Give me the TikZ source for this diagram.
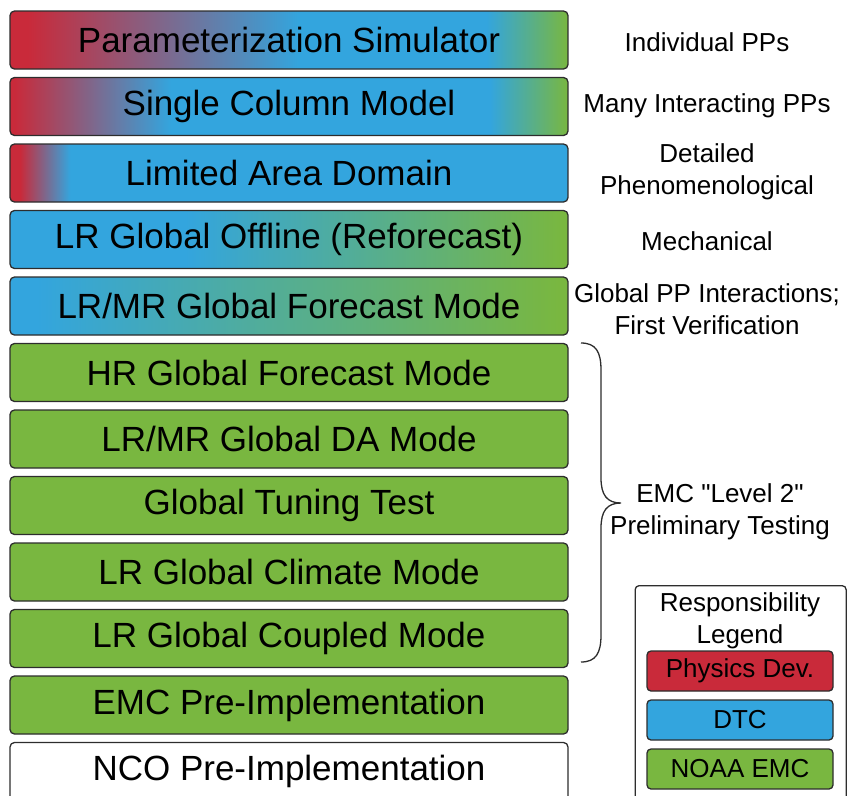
\documentclass[tikz,border=0pt]{standalone}
\usepackage{fontspec}
\setmainfont{Liberation Sans}
\newfontfamily\plainquotes{Liberation Sans}[Ligatures=TeXOff]
\usetikzlibrary{calc}
\definecolor{cred}{RGB}{201,42,58}
\definecolor{cblue}{RGB}{51,165,222}
\definecolor{cgreen}{RGB}{121,183,64}
\definecolor{cborder}{RGB}{45,45,45}
\pgfdeclarehorizontalshading{gradA}{100bp}{color(0bp)=(cred); color(26.6bp)=(cred); color(51bp)=(cblue); color(67.7bp)=(cblue); color(75bp)=(cgreen); color(100bp)=(cgreen)}
\pgfdeclarehorizontalshading{gradB}{100bp}{color(0bp)=(cred); color(25.4bp)=(cred); color(39.4bp)=(cblue); color(68bp)=(cblue); color(75bp)=(cgreen); color(100bp)=(cgreen)}
\pgfdeclarehorizontalshading{gradC}{100bp}{color(0bp)=(cred); color(25.9bp)=(cred); color(30.4bp)=(cblue); color(100bp)=(cblue)}
\pgfdeclarehorizontalshading{gradD}{100bp}{color(0bp)=(cblue); color(40.7bp)=(cblue); color(74.5bp)=(cgreen); color(100bp)=(cgreen)}
\pgfdeclarehorizontalshading{gradE}{100bp}{color(0bp)=(cblue); color(27.4bp)=(cblue); color(74.2bp)=(cgreen); color(100bp)=(cgreen)}
\begin{document}
\begin{tikzpicture}[x=1pt,y=-1pt,
  box/.style={draw=cborder, line width=1.3pt, rounded corners=4.5pt, minimum width=558pt, minimum height=58pt, inner sep=0pt, font=\fontsize{35}{42}\selectfont, text=black},
  side/.style={align=center, inner sep=0pt, font=\fontsize{26}{31.5}\selectfont, text=black},
  legitem/.style={draw=cborder, line width=1.3pt, rounded corners=4pt, minimum width=186pt, minimum height=40pt, inner sep=0pt, font=\fontsize{26}{31}\selectfont, text=black},
  bracestyle/.style={draw=cborder, line width=1.3pt}
]
\useasboundingbox (0,0) rectangle (847,796);
% main boxes
\node[box, shade, shading=gradA] (b1) at (289,40) {Parameterization Simulator};
\node[box, shade, shading=gradB] (b2) at (289,106.5) {Single Column Model};
\node[box, shade, shading=gradC] (b3) at (289,173) {Limited Area Domain};
\node[box, shade, shading=gradD] (b4) at (289,239.5) {LR Global Offline (Reforecast)};
\node[box, shade, shading=gradE] (b5) at (289,306) {LR/MR Global Forecast Mode};
\node[box, fill=cgreen] (b6) at (289,372.5) {HR Global Forecast Mode};
\node[box, fill=cgreen] (b7) at (289,439) {LR/MR Global DA Mode};
\node[box, fill=cgreen] (b8) at (289,505.5) {Global Tuning Test};
\node[box, fill=cgreen] (b9) at (289,572) {LR Global Climate Mode};
\node[box, fill=cgreen] (b10) at (289,638.5) {LR Global Coupled Mode};
\node[box, fill=cgreen] (b11) at (289,705) {EMC Pre-Implementation};
\node[box, fill=white] (b12) at (289,771.5) {NCO Pre-Implementation};
% side labels
\node[side] (l1) at (707,42) {Individual PPs};
\node[side] (l2) at (707,106) {Many Interacting PPs};
\node[side] (l3) at (707,172) {Detailed\\Phenomenological};
\node[side] (l4) at (707,241) {Mechanical};
\node[side] (l5) at (707,309) {Global PP Interactions;\\First Verification};
\node[side, font=\fontsize{26}{31.5}\plainquotes] (l6) at (720,512) {EMC "Level 2"\\Preliminary Testing};
% brace
\coordinate (bt) at (581,343);
\coordinate (bm) at (621,503);
\coordinate (bb) at (581,662);
\draw[bracestyle] (bt) .. controls (596,343) and (601,352) .. (601,370) -- (601,478)
  .. controls (601,495) and (607,503) .. (bm)
  .. controls (607,503) and (601,511) .. (601,528) -- (601,635)
  .. controls (601,653) and (596,662) .. (bb);
% legend
\node[draw=cborder, line width=1.3pt, rounded corners=4pt, minimum width=211pt, minimum height=230pt, inner sep=0pt, anchor=north west] (leg) at (634.5,585) {};
\node[side] (legt) at (740,621) {Responsibility\\Legend};
\node[legitem, fill=cred] (lr) at (740,671) {Physics Dev.};
\node[legitem, fill=cblue] (lb) at (740,720) {DTC};
\node[legitem, fill=cgreen] (lg) at (740,769) {NOAA EMC};
\end{tikzpicture}
\end{document}
